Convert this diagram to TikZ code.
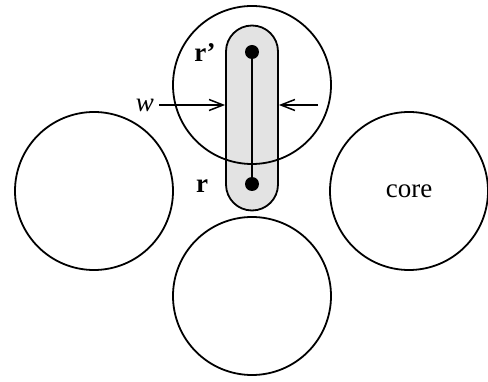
\documentclass[tikz,border=0pt]{standalone}
\usepackage{fontspec}
\setmainfont{Liberation Serif}
\usetikzlibrary{positioning,arrows.meta}

\begin{document}
\begin{tikzpicture}[x=1pt, y=-1pt,
    core/.style={circle, draw, line width=1.8pt, minimum size=158pt, inner sep=0pt},
    tube/.style={rectangle, draw, line width=1.8pt, rounded corners=26pt, fill=gray!22, minimum width=52pt, minimum height=185pt},
    site/.style={circle, fill=black, minimum size=14pt, inner sep=0pt},
    arrow/.style={-{Straight Barb[length=14pt, width=11pt]}, line width=1.5pt},
    label/.style={font=\fontsize{27}{30}\selectfont, inner sep=0pt}
]
\useasboundingbox (0,0) rectangle (488,382);

% Capsule of width w round the bond
\node[tube] (tube) at (252,118) {};

% Four cores
\node[core] (top) at (252,85) {};
\node[core] (left) at (94,191) {};
\node[core] (right) at (409,191) {};
\node[core] (bottom) at (252,296) {};
\node[label] at (right.center) {core};

% Bond r -- r'
\node[site] (rp) at (252,52) {};
\node[site] (r) at (252,184) {};
\draw[line width=1.6pt] (rp) -- (r);
\node[label, font=\fontsize{27}{30}\selectfont\bfseries] at (205,53) {r’};
\node[label, font=\fontsize{27}{30}\selectfont\bfseries] at (202,186) {r};

% Width arrows
\coordinate (wl) at (159,105);
\coordinate (wr) at (318,105);
\draw[arrow] (wl) -- (wl -| tube.west);
\draw[arrow] (wr) -- (wr -| tube.east);
\node[label, font=\fontsize{27}{30}\selectfont\itshape, left=5pt of wl] {w};

\end{tikzpicture}
\end{document}
